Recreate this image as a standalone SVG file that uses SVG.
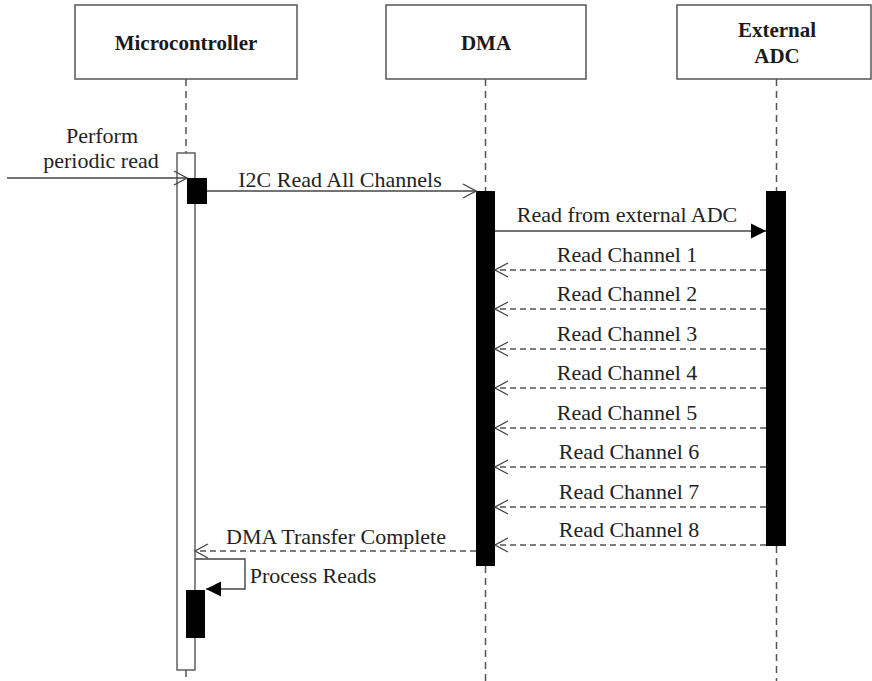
<svg xmlns="http://www.w3.org/2000/svg" width="872" height="681" viewBox="0 0 872 681">
  <style>
    .head { fill: #ffffff; stroke: #555555; stroke-width: 1.5; }
    .htext { font-family: "Liberation Serif", "Times New Roman", serif; font-weight: bold; font-size: 21px; fill: #1a1a1a; text-anchor: middle; }
    .lbl { font-family: "Liberation Serif", "Times New Roman", serif; font-size: 22px; fill: #222222; text-anchor: middle; }
    .life { stroke: #555555; stroke-width: 1.5; stroke-dasharray: 7 5; fill: none; }
    .msg { stroke: #444444; stroke-width: 1.4; fill: none; }
    .ret { stroke: #555555; stroke-width: 1.4; fill: none; stroke-dasharray: 6 4; }
    .act { fill: #000000; }
    .frame { fill: #ffffff; stroke: #555555; stroke-width: 1.4; }
  </style>
  <defs>
    <marker id="open" markerUnits="userSpaceOnUse" markerWidth="16" markerHeight="18" refX="14" refY="8" orient="auto">
      <path d="M1,1 L14,8 L1,15" fill="none" stroke="#444444" stroke-width="1.4"/>
    </marker>
    <marker id="filled" markerUnits="userSpaceOnUse" markerWidth="16" markerHeight="18" refX="15" refY="8" orient="auto">
      <path d="M0,0.5 L15,8 L0,15.5 Z" fill="#000000"/>
    </marker>
  </defs>

  <rect width="872" height="681" fill="#ffffff"/>

  <!-- lifelines -->
  <g id="lifelines">
    <line class="life" x1="186" y1="79" x2="186" y2="153"/>
    <line class="life" x1="186" y1="670" x2="186" y2="681"/>
    <line class="life" x1="485.5" y1="79" x2="485.5" y2="191"/>
    <line class="life" x1="485.5" y1="566" x2="485.5" y2="681"/>
    <line class="life" x1="776.5" y1="79" x2="776.5" y2="191"/>
    <line class="life" x1="776.5" y1="546" x2="776.5" y2="681"/>
  </g>

  <g id="microcontroller">
    <rect class="head" x="75" y="5" width="222" height="74"/>
    <text class="htext" x="186" y="50">Microcontroller</text>
    <rect class="frame" x="177" y="153" width="18" height="517"/>
    <rect class="act" x="187" y="178" width="20" height="26"/>
    <rect class="act" x="186" y="590" width="19" height="48"/>
  </g>

  <g id="dma">
    <rect class="head" x="386" y="5" width="200" height="74"/>
    <text class="htext" x="486" y="50">DMA</text>
    <rect class="act" x="476" y="191" width="19" height="375"/>
  </g>

  <g id="external-adc">
    <rect class="head" x="677" y="5" width="194" height="74"/>
    <text class="htext" x="777" y="37">External</text>
    <text class="htext" x="777" y="63">ADC</text>
    <rect class="act" x="766" y="191" width="20" height="355"/>
  </g>

  <!-- connectors -->
  <g id="connectors">
    <line class="msg" x1="7" y1="178" x2="187" y2="178" marker-end="url(#open)"/>
    <line class="msg" x1="207" y1="191" x2="476" y2="191" marker-end="url(#open)"/>
    <line class="msg" x1="495" y1="231" x2="766" y2="231" marker-end="url(#filled)"/>
    <line class="ret" x1="766" y1="270" x2="495" y2="270" marker-end="url(#open)"/>
    <line class="ret" x1="766" y1="309" x2="495" y2="309" marker-end="url(#open)"/>
    <line class="ret" x1="766" y1="349" x2="495" y2="349" marker-end="url(#open)"/>
    <line class="ret" x1="766" y1="388" x2="495" y2="388" marker-end="url(#open)"/>
    <line class="ret" x1="766" y1="428" x2="495" y2="428" marker-end="url(#open)"/>
    <line class="ret" x1="766" y1="467" x2="495" y2="467" marker-end="url(#open)"/>
    <line class="ret" x1="766" y1="507" x2="495" y2="507" marker-end="url(#open)"/>
    <line class="ret" x1="766" y1="545" x2="495" y2="545" marker-end="url(#open)"/>
    <line class="ret" x1="476" y1="551" x2="195" y2="551" marker-end="url(#open)"/>
    <path class="msg" d="M195,559 H245 V589 H206" marker-end="url(#filled)"/>
  </g>

  <!-- message labels -->
  <g id="labels">
    <text class="lbl" x="102" y="143">Perform</text>
    <text class="lbl" x="101" y="168">periodic read</text>
    <text class="lbl" x="340" y="187">I2C Read All Channels</text>
    <text class="lbl" x="627" y="222">Read from external ADC</text>
    <text class="lbl" x="627" y="262">Read Channel 1</text>
    <text class="lbl" x="627" y="301">Read Channel 2</text>
    <text class="lbl" x="627" y="341">Read Channel 3</text>
    <text class="lbl" x="627" y="380">Read Channel 4</text>
    <text class="lbl" x="627" y="420">Read Channel 5</text>
    <text class="lbl" x="629" y="459">Read Channel 6</text>
    <text class="lbl" x="629" y="499">Read Channel 7</text>
    <text class="lbl" x="629" y="537">Read Channel 8</text>
    <text class="lbl" x="336" y="544">DMA Transfer Complete</text>
    <text class="lbl" x="313" y="583">Process Reads</text>
  </g>
</svg>
